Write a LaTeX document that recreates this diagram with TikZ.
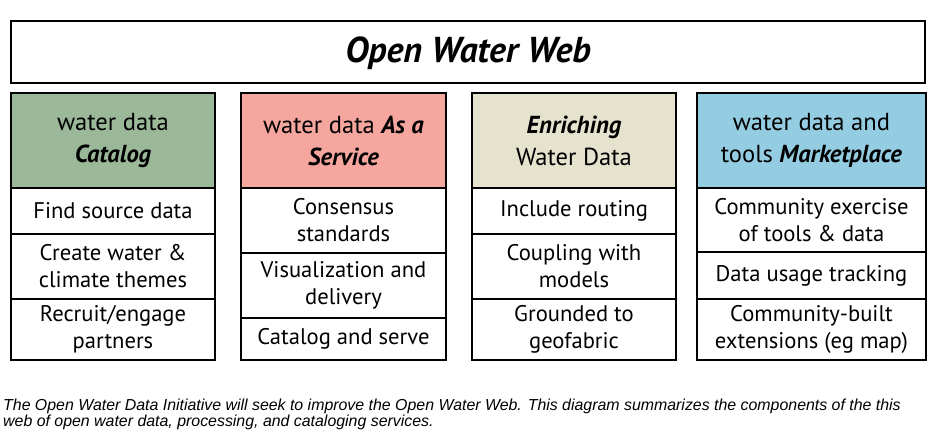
\documentclass[tikz,border=0pt]{standalone}
\usepackage{fontspec}
\setmainfont{PT Sans}
\newfontfamily\capfont{Liberation Sans}
\usepackage{xcolor}
\usepackage{tikz}

\definecolor{catgreen}{RGB}{155,184,153}
\definecolor{svcred}{RGB}{245,167,159}
\definecolor{enrbeige}{RGB}{229,226,206}
\definecolor{mktblue}{RGB}{148,205,226}

\begin{document}
\begin{tikzpicture}[x=1pt, y=-1pt,
    box/.style={draw, line width=2.6pt, align=center, inner sep=0pt,
        font=\fontsize{22.6}{27}\selectfont},
    head/.style={box, font=\fontsize{24.6}{32}\selectfont}]
    \useasboundingbox (0,0) rectangle (930,439);

    \node[draw, line width=2.6pt, minimum width=914pt, minimum height=62pt, text depth=4pt,
        font=\fontsize{36}{40}\selectfont\bfseries\itshape] (web) at (468,52) {Open Water Web};

    % catalog
    \node[head, fill=catgreen, minimum width=204pt, minimum height=95pt] (catalog) at (113,140.5) {water data\\\textbf{\textit{Catalog}}};
    \node[box, minimum width=204pt, minimum height=46pt] (find) at (113,211) {Find source data};
    \node[box, minimum width=204pt, minimum height=65pt] (themes) at (113,266.5) {Create water \&\\climate themes};
    \node[box, minimum width=204pt, minimum height=61pt] (recruit) at (113,329.5) {Recruit/engage\\partners};

    % service
    \node[head, fill=svcred, minimum width=205pt, minimum height=95pt] (service) at (343.5,140.5) {water data \textbf{\textit{As a}}\\\textbf{\textit{Service}}};
    \node[box, minimum width=205pt, minimum height=65pt] (consensus) at (343.5,220.5) {Consensus\\standards};
    \node[box, minimum width=205pt, minimum height=65pt] (visual) at (343.5,285.5) {Visualization and\\delivery};
    \node[box, minimum width=205pt, minimum height=42pt] (serve) at (343.5,339) {Catalog and serve};

    % enriching
    \node[head, fill=enrbeige, minimum width=204pt, minimum height=95pt] (enrich) at (574,140.5) {\textbf{\textit{Enriching}}\\Water Data};
    \node[box, minimum width=204pt, minimum height=46pt] (routing) at (574,211) {Include routing};
    \node[box, minimum width=204pt, minimum height=65pt] (coupling) at (574,266.5) {Coupling with\\models};
    \node[box, minimum width=204pt, minimum height=61pt] (grounded) at (574,329.5) {Grounded to\\geofabric};

    % marketplace
    \node[head, fill=mktblue, minimum width=229pt, minimum height=95pt] (market) at (811.5,140.5) {water data and\\tools \textbf{\textit{Marketplace}}};
    \node[box, minimum width=229pt, minimum height=64pt] (exercise) at (811.5,220) {Community exercise\\of tools \& data};
    \node[box, minimum width=229pt, minimum height=47pt] (tracking) at (811.5,275.5) {Data usage tracking};
    \node[box, minimum width=229pt, minimum height=61pt] (ext) at (811.5,329.5) {Community-built\\extensions (eg map)};

    \node[anchor=north west, align=left, inner sep=0pt,
        font=\capfont\itshape\fontsize{15.9}{16}\selectfont] (caption) at (3,399)
        {The Open Water Data Initiative will seek to improve the Open Water Web. This diagram summarizes the components of the this\\web of open water data, processing, and cataloging services.};
\end{tikzpicture}
\end{document}
